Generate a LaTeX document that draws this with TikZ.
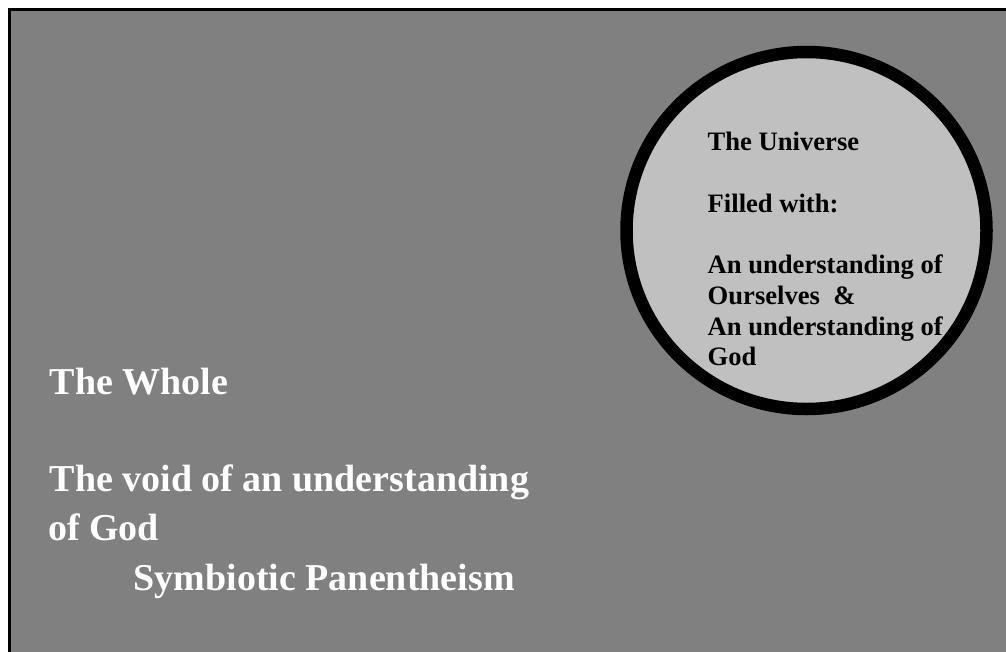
\documentclass[tikz,border=0pt]{standalone}
\usepackage{fontspec}
\setmainfont{Liberation Serif}
\begin{document}
\begin{tikzpicture}[x=1pt,y=-1pt,
  bgbox/.style={draw=black,line width=3pt,fill=bggray},
  world/.style={draw=black,line width=12.5pt,fill=circgray},
  small/.style={anchor=base west,inner sep=0pt,text=black,font=\fontsize{26.6}{30.6}\selectfont\bfseries},
  big/.style={anchor=base west,inner sep=0pt,text=white,font=\fontsize{38}{44}\selectfont\bfseries}]
\definecolor{bggray}{RGB}{128,128,128}
\definecolor{circgray}{RGB}{192,192,192}
\useasboundingbox (0,0) rectangle (1006,651);
\fill[white] (0,0) rectangle (1006,651);
\begin{scope}
\clip (0,0) rectangle (1006,651);
\draw[bgbox] (9.5,9.5) rectangle (1030,680);
\end{scope}
\draw[world] (806.5,230.5) ellipse [x radius=180, y radius=178.5];
\node[small] (u1) at (707.5,150.7) {The Universe};
\node[small] (u2) at (707.5,212.5) {Filled with:};
\node[small] (u3) at (707.5,273.3) {An understanding of};
\node[small] (u4) at (707.5,304.5) {Ourselves \ \&};
\node[small] (u5) at (707.5,335.5) {An understanding of};
\node[small] (u6) at (707.5,365) {God};
\node[big] (w1) at (49.5,394) {The Whole};
\node[big] (w2) at (49.5,491.7) {The void of an understanding};
\node[big] (w3) at (48,540.7) {of God};
\node[big] (w4) at (133.5,590) {Symbiotic Panentheism};
\end{tikzpicture}
\end{document}
